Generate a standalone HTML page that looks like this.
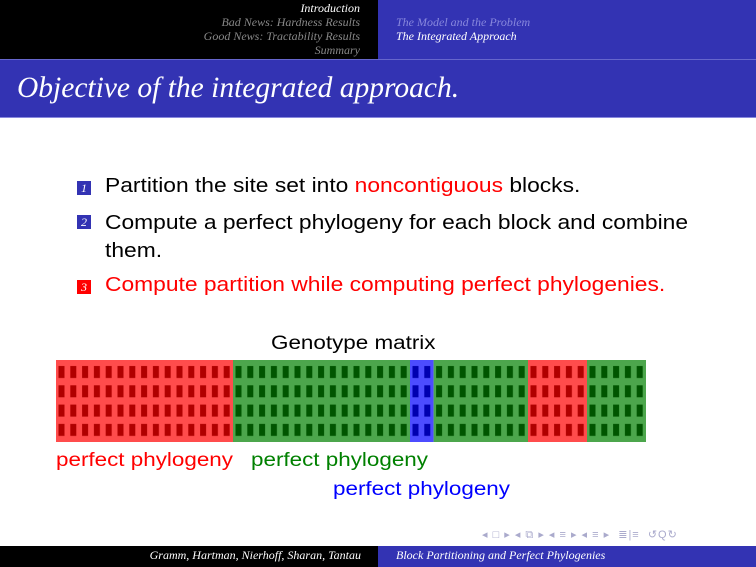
<!DOCTYPE html>
<html><head><meta charset="utf-8"><style>
body{margin:0;width:756px;height:567px;overflow:hidden;background:#fff;position:relative;font-family:"Liberation Sans",sans-serif}
.a{position:absolute;white-space:nowrap}
.x{transform:scaleX(1.14);transform-origin:0 0}
.s{font-family:"Liberation Serif",serif;font-style:italic}
.b{position:absolute;width:14px;height:14px;left:77px;color:#fff;font-family:"Liberation Serif",serif;font-style:italic;font-size:12px;text-align:center;line-height:15px}
</style></head><body>
<div class="a" style="left:0;top:0;width:378px;height:59px;background:#000"></div>
<div class="a" style="left:378px;top:0;width:378px;height:59px;background:#3333b3"></div>
<div class="a s" style="right:396px;top:1px;font-size:12px;line-height:14px;text-align:right;color:#888">
<span style="color:#fff">Introduction</span><br>Bad News: Hardness Results<br>Good News: Tractability Results<br>Summary</div>
<div class="a s" style="left:396px;top:15px;font-size:12px;line-height:14px;color:#8888dd">The Model and the Problem<br><span style="color:#fff">The Integrated Approach</span></div>
<div class="a" style="left:0;top:59px;width:756px;height:1px;background:#6666cc"></div>
<div class="a" style="left:0;top:60px;width:756px;height:57px;background:#3333b3"></div>
<div class="a s" style="left:17px;top:72px;font-size:29.5px;color:#fff">Objective of the integrated approach.</div>
<div class="a" style="left:0;top:117px;width:756px;height:1px;background:#8888dd"></div>

<div class="b" style="top:181px;background:#3333b3">1</div>
<div class="a x" style="left:105px;top:175px;font-size:20px">Partition the site set into <span style="color:#f00">noncontiguous</span> blocks.</div>
<div class="b" style="top:215px;background:#3333b3">2</div>
<div class="a x" style="left:105px;top:209px;font-size:20px;line-height:28px">Compute a perfect phylogeny for each block and combine<br>them.</div>
<div class="b" style="top:280px;background:#f00">3</div>
<div class="a x" style="left:105px;top:274px;font-size:20px;color:#f00">Compute partition while computing perfect phylogenies.</div>

<div class="a x" style="left:271px;top:333px;font-size:19px;transform:scaleX(1.18)">Genotype matrix</div>
<svg class="a" style="left:0;top:0" width="756" height="567">
<defs>
<pattern id="pr" patternUnits="userSpaceOnUse" x="56" y="360" width="11.8" height="19.3"><rect x="2.5" y="6" width="6" height="12" fill="#b00000"/></pattern>
<pattern id="pg" patternUnits="userSpaceOnUse" x="56" y="360" width="11.8" height="19.3"><rect x="2.5" y="6" width="6" height="12" fill="#005500"/></pattern>
<pattern id="pb" patternUnits="userSpaceOnUse" x="56" y="360" width="11.8" height="19.3"><rect x="2.5" y="6" width="6" height="12" fill="#0000b0"/></pattern>
</defs>
<rect x="56" y="360" width="177" height="82" fill="#ff4c4c"/>
<rect x="233" y="360" width="177" height="82" fill="#4ca64c"/>
<rect x="410" y="360" width="23.6" height="82" fill="#4c4cff"/>
<rect x="433.6" y="360" width="94.4" height="82" fill="#4ca64c"/>
<rect x="528" y="360" width="59" height="82" fill="#ff4c4c"/>
<rect x="587" y="360" width="59" height="82" fill="#4ca64c"/>
<rect x="56" y="360" width="177" height="77" fill="url(#pr)"/>
<rect x="233" y="360" width="177" height="77" fill="url(#pg)"/>
<rect x="410" y="360" width="23.6" height="77" fill="url(#pb)"/>
<rect x="433.6" y="360" width="94.4" height="77" fill="url(#pg)"/>
<rect x="528" y="360" width="59" height="77" fill="url(#pr)"/>
<rect x="587" y="360" width="59" height="77" fill="url(#pg)"/>
</svg>
<div class="a x" style="left:56px;top:450px;font-size:19px;color:#f00;transform:scaleX(1.18)">perfect phylogeny</div>
<div class="a x" style="left:251px;top:450px;font-size:19px;color:#008000;transform:scaleX(1.18)">perfect phylogeny</div>
<div class="a x" style="left:333px;top:479px;font-size:19px;color:#00f;transform:scaleX(1.18)">perfect phylogeny</div>

<div class="a" style="left:482px;top:528px;font-size:11px;color:#aaaacc;letter-spacing:1px">◂ □ ▸ ◂ ⧉ ▸ ◂ ≡ ▸ ◂ ≡ ▸ &nbsp;≣|≡ &nbsp;↺Q↻</div>
<div class="a" style="left:0;top:546px;width:378px;height:21px;background:#000"></div>
<div class="a" style="left:378px;top:546px;width:378px;height:21px;background:#3333b3"></div>
<div class="a s" style="right:395px;top:548px;font-size:12px;color:#fff">Gramm, Hartman, Nierhoff, Sharan, Tantau</div>
<div class="a s" style="left:396px;top:548px;font-size:12px;color:#fff">Block Partitioning and Perfect Phylogenies</div>
</body></html>
